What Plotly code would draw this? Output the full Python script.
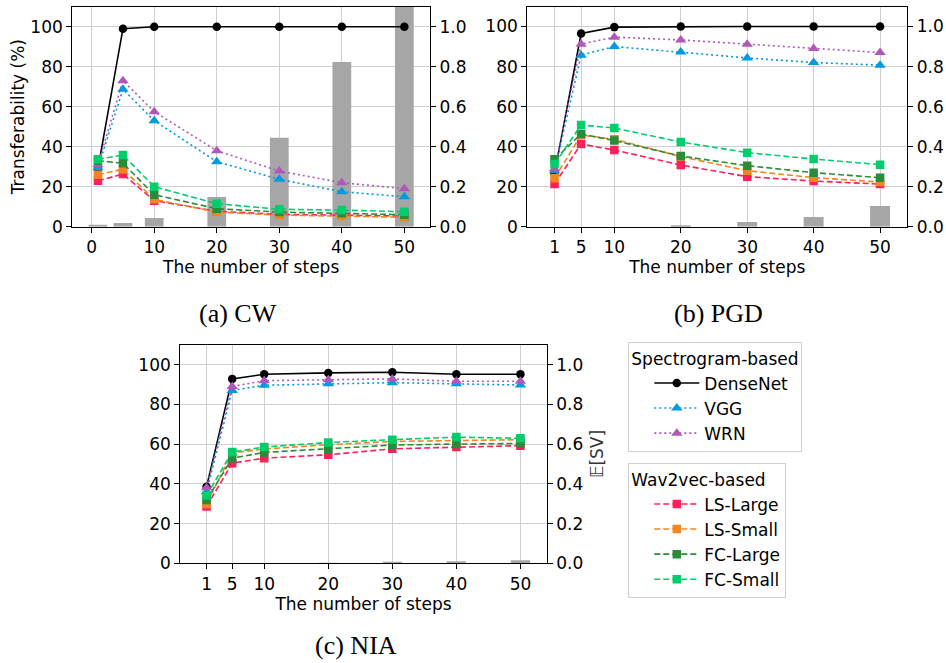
import plotly.graph_objects as go

W, H = 946, 663

steps = [1, 5, 10, 20, 30, 40, 50]

# Transferability (%) per model, one list per attack
densenet_cw = [29, 99, 100, 100, 100, 100, 100]
vgg_cw = [29.5, 68.7, 53, 32.5, 23.7, 17.5, 15]
wrn_cw = [31, 73, 57.5, 38, 27.8, 22, 19]
ls_large_cw = [23, 26.3, 13, 7.7, 6.2, 5.8, 5.3]
ls_small_cw = [26, 28.7, 13.7, 7.3, 5.8, 5.3, 4.7]
fc_large_cw = [33, 31.7, 16, 9, 7.3, 6.7, 6]
fc_small_cw = [33.7, 35.8, 20, 11.5, 8.7, 8.3, 7.5]
sv_cw = [0.008, 0.018, 0.043, 0.148, 0.445, 0.823, 1.25]

densenet_pgd = [26.5, 96.5, 99.7, 100, 100, 100, 100]
vgg_pgd = [28, 85.7, 90, 87.3, 84.3, 82, 80.7]
wrn_pgd = [29, 91.2, 94.7, 93.3, 91.2, 89, 87]
ls_large_pgd = [21.3, 41.3, 38.3, 30.8, 25, 22.8, 21.3]
ls_small_pgd = [24.2, 45.8, 43.7, 35, 28, 24.5, 22.3]
fc_large_pgd = [33.7, 46.3, 43, 35.3, 30.5, 27, 24.5]
fc_small_pgd = [31.3, 50.8, 49.3, 42.3, 37, 33.8, 31]
sv_pgd = [0.0, 0.0, 0.0, 0.007, 0.023, 0.048, 0.103]

densenet_nia = [38.5, 92.8, 95.1, 95.8, 96.1, 95.1, 95.1]
vgg_nia = [36, 87, 89.6, 90.4, 90.9, 90.3, 89.7]
wrn_nia = [38, 89, 91.9, 92.4, 92.8, 91.6, 91.6]
ls_large_nia = [28.6, 50.4, 52.9, 54.6, 57.6, 58.5, 59.2]
ls_small_nia = [29.9, 55.5, 57.5, 59.7, 61.3, 61.8, 62.2]
fc_large_nia = [31.9, 52.9, 55.8, 57.6, 59.5, 60, 60.3]
fc_small_nia = [34.1, 56, 58.5, 60.8, 62.2, 63.5, 62.9]
sv_nia = [0.0, 0.0, 0.0, 0.003, 0.004, 0.01, 0.015]

left_ticks = [0, 20, 40, 60, 80, 100]
right_ticks = [0.0, 0.2, 0.4, 0.6, 0.8, 1.0]
x_ticks_cw = [0, 10, 20, 30, 40, 50]
x_ticks_other = [1, 5, 10, 20, 30, 40, 50]

panels = [
    dict(name="(a) CW", xticks=x_ticks_cw, sv=sv_cw,
         vals=[densenet_cw, vgg_cw, wrn_cw, ls_large_cw, ls_small_cw, fc_large_cw, fc_small_cw]),
    dict(name="(b) PGD", xticks=x_ticks_other, sv=sv_pgd,
         vals=[densenet_pgd, vgg_pgd, wrn_pgd, ls_large_pgd, ls_small_pgd, fc_large_pgd, fc_small_pgd]),
    dict(name="(c) NIA", xticks=x_ticks_other, sv=sv_nia,
         vals=[densenet_nia, vgg_nia, wrn_nia, ls_large_nia, ls_small_nia, fc_large_nia, fc_small_nia]),
]

# model styling: name, color, dash, marker symbol, marker size, legend
models = [
    ("DenseNet", "#000000", "solid", "circle", 8.5, "legend"),
    ("VGG", "#009ADE", "2px,3px", "triangle-up", 10, "legend"),
    ("WRN", "#AF58BA", "2px,3px", "triangle-up", 10, "legend"),
    ("LS-Large", "#FF1F5B", "6px,3px", "square", 8.5, "legend2"),
    ("LS-Small", "#F28522", "6px,3px", "square", 8.5, "legend2"),
    ("FC-Large", "#2A8B3A", "6px,3px", "square", 8.5, "legend2"),
    ("FC-Small", "#00CD6C", "6px,3px", "square", 8.5, "legend2"),
]

# plot-area boxes in pixels: (left, right, top, bottom)
boxes = [
    (72.3, 430.0, 6.7, 226.7),
    (527.3, 907.3, 6.5, 226.7),
    (180.3, 546.7, 344.7, 563.3),
]

FONT = "DejaVu Sans"
FS = 17
GRID = "#cfcfcf"

fig = go.Figure()
layout = {}

for i, (p, box) in enumerate(zip(panels, boxes)):
    xa = "x" if i == 0 else f"x{i + 1}"
    ybar = "y" if i == 0 else f"y{2 * i + 1}"
    yline = f"y{2 * i + 2}"
    xkey = "xaxis" if i == 0 else f"xaxis{i + 1}"
    ybkey = "yaxis" if i == 0 else f"yaxis{2 * i + 1}"
    ylkey = f"yaxis{2 * i + 2}"

    # E[SV] bars on the base (right) axis so the lines are drawn above them
    fig.add_trace(go.Bar(x=steps, y=p["sv"], width=3, marker=dict(color="#a6a6a6", line=dict(width=0)),
                         xaxis=xa, yaxis=ybar, showlegend=False))
    for (name, color, dash, sym, msize, leg), vals in zip(models, p["vals"]):
        fig.add_trace(go.Scatter(
            x=steps, y=vals, name=name, mode="lines+markers",
            line=dict(color=color, width=1.6, dash=dash),
            marker=dict(symbol=sym, size=msize, color=color, line=dict(width=0)),
            xaxis=xa, yaxis=yline, showlegend=(i == 0), legend=leg,
        ))

    l, r, t, b = box
    xdom = [l / W, r / W]
    ydom = [(H - b) / H, (H - t) / H]

    layout[xkey] = dict(
        domain=xdom, anchor=ybar, range=[-3.1, 54.1],
        tickmode="array", tickvals=p["xticks"], ticktext=[str(v) for v in p["xticks"]],
        showgrid=True, gridcolor=GRID, gridwidth=1, zeroline=False,
        showline=True, linecolor="black", linewidth=1.2, mirror=True,
        ticks="outside", ticklen=5, tickcolor="black", tickwidth=1.2,
        tickfont=dict(family=FONT, size=FS, color="black"),
        title=dict(text="The number of steps", font=dict(family=FONT, size=FS, color="black"), standoff=3),
        automargin=False,
    )
    layout[ybkey] = dict(
        domain=ydom, anchor=xa, side="right", range=[0, 1.1],
        tickmode="array", tickvals=right_ticks, ticktext=[f"{v:.1f}" for v in right_ticks],
        showgrid=False, zeroline=False,
        showline=True, linecolor="black", linewidth=1.2,
        ticks="outside", ticklen=5, tickcolor="black", tickwidth=1.2,
        tickfont=dict(family=FONT, size=FS, color="black"),
        automargin=False,
    )
    layout[ylkey] = dict(
        domain=ydom, anchor=xa, overlaying=ybar, side="left", range=[0, 110],
        tickmode="array", tickvals=left_ticks, ticktext=[str(v) for v in left_ticks],
        showgrid=True, gridcolor=GRID, gridwidth=1, zeroline=False,
        showline=True, linecolor="black", linewidth=1.2,
        ticks="outside", ticklen=5, tickcolor="black", tickwidth=1.2,
        tickfont=dict(family=FONT, size=FS, color="black"),
        automargin=False,
    )

layout["yaxis2"]["title"] = dict(text="Transferability (%)", font=dict(family=FONT, size=FS, color="black"),
                                  standoff=1)

annotations = []
captions = [("(a) CW", 237.5, 313), ("(b) PGD", 718, 313), ("(c) NIA", 356, 645)]
for text, cx, cy in captions:
    annotations.append(dict(text=text, x=cx / W, y=(H - cy) / H, xref="paper", yref="paper",
                            xanchor="center", yanchor="middle", showarrow=False,
                            font=dict(family="Liberation Serif", size=26, color="black")))

# right-hand axis label of the NIA panel
annotations.append(dict(text="\U0001D53C[SV]", x=597 / W, y=(H - 454) / H, xref="paper", yref="paper",
                        xanchor="center", yanchor="middle", textangle=-90, showarrow=False,
                        font=dict(family=FONT, size=FS, color="#333333")))

legend_common = dict(
    xref="paper", yref="paper", xanchor="left", yanchor="top",
    bgcolor="white", bordercolor="#d0d0d0", borderwidth=1,
    font=dict(family=FONT, size=FS, color="black"),
    itemwidth=45, indentation=20, tracegroupgap=0,
)

fig.update_layout(
    width=W, height=H,
    margin=dict(l=0, r=0, t=0, b=0),
    paper_bgcolor="white", plot_bgcolor="white",
    font=dict(family=FONT, size=FS, color="black"),
    barmode="overlay",
    annotations=annotations,
    legend=dict(x=628.3 / W, y=(H - 342.3) / H,
                title=dict(text="Spectrogram-based", font=dict(family=FONT, size=FS, color="black")),
                **legend_common),
    legend2=dict(x=628.3 / W, y=(H - 463.3) / H,
                 title=dict(text="Wav2vec-based", font=dict(family=FONT, size=FS, color="black")),
                 **legend_common),
    **layout,
)

fig.write_html("out.html")
